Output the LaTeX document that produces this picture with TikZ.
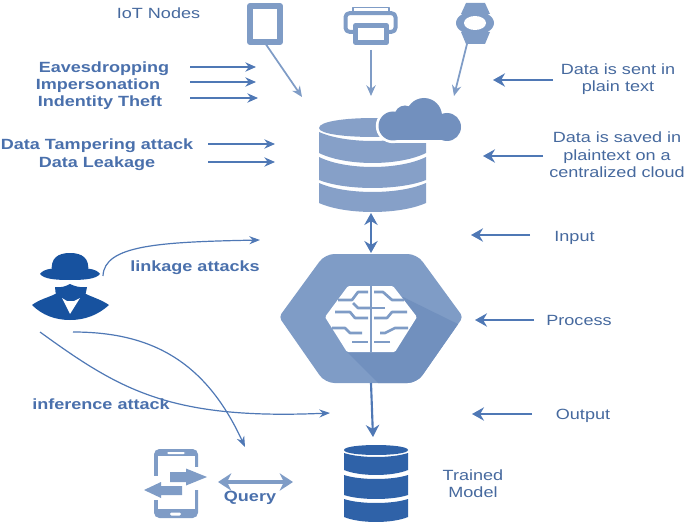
\documentclass[tikz,border=0pt]{standalone}
\usepackage{fontspec}
\usetikzlibrary{arrows.meta}
\newfontfamily\lblfont[FakeStretch=1.22]{Liberation Sans}
\definecolor{lblc}{HTML}{46699E}
\definecolor{boldc}{HTML}{4A70AC}
\definecolor{arrc}{HTML}{4F78B5}
\definecolor{lightarr}{HTML}{7F9CC6}
\definecolor{dbc}{HTML}{86A0C8}
\definecolor{cloudc}{HTML}{7290BE}
\definecolor{hexc}{HTML}{7F9CC6}
\definecolor{hexd}{HTML}{7190BE}
\definecolor{spyc}{HTML}{17529F}
\definecolor{tdbc}{HTML}{2F62A8}
\tikzset{
  lbl/.style={font=\lblfont\fontsize{11.1pt}{13pt}\selectfont,text=lblc,align=center,inner sep=0pt},
  blbl/.style={font=\lblfont\bfseries\fontsize{11.1pt}{13pt}\selectfont,text=boldc,align=center,inner sep=0pt},
  arr/.style={draw=arrc,line width=0.95pt,-{Stealth[length=8pt,width=7pt]}},
  rarr/.style={draw=arrc,line width=1.6pt,-{Stealth[length=9pt,width=10pt]}},
  garr/.style={draw=lightarr,line width=2.8pt,{Stealth[length=10pt,width=13pt]}-{Stealth[length=10pt,width=13pt]}},
  carr/.style={draw=arrc,line width=0.9pt,-{Stealth[length=8pt,width=6pt]}},
  icon/.style={draw=lightarr,line width=4.5pt,fill=white,inner sep=0pt},
}
% cx, half width, side-top y, centre-top y, side-bottom y, centre-bottom y, colour
\newcommand{\slab}[7]{%
  \fill[#7] ({#1-#2},#3) .. controls ({#1-#2*0.5},{#3+(#4-#3)*1.33}) and ({#1+#2*0.5},{#3+(#4-#3)*1.33}) .. ({#1+#2},#3)
   -- ({#1+#2},#5) .. controls ({#1+#2*0.5},{#5+(#6-#5)*1.33}) and ({#1-#2*0.5},{#5+(#6-#5)*1.33}) .. ({#1-#2},#5) -- cycle;}
\newcommand{\topell}[6]{%
  \fill[#6] ({#1-#2},#4) .. controls ({#1-#2},{#4-(#4-#3)*1.33}) and ({#1+#2},{#4-(#4-#3)*1.33}) .. ({#1+#2},#4)
   .. controls ({#1+#2},{#4+(#5-#4)*1.33}) and ({#1-#2},{#4+(#5-#4)*1.33}) .. ({#1-#2},#4) -- cycle;}
% one cloud, drawn lobe by lobe so that the overlaps stay filled
\newcommand{\cloudlobes}[1]{%
  \path[#1] (393,126) circle (14.5);
  \path[#1] (405,116) circle (10.5);
  \path[#1] (424,116) circle (18);
  \path[#1] (447,127) circle (14);
  \path[#1] (393,125) rectangle (447,140.5);
  \path[#1] (405,112) rectangle (440,130);}
\begin{document}
\begin{tikzpicture}[x=0.75pt,y=-0.75pt,line join=round]
\useasboundingbox (0,0) rectangle (685,524);

% ---- devices
\node[icon,minimum width=22.5pt,minimum height=27pt] (tablet) at (265,24) {};
\draw[lightarr,line width=1.1pt] (353,7.5) rectangle (389,13);
\node[icon,line width=3pt,minimum width=37.5pt,minimum height=14pt,rounded corners=3pt] (printer) at (370.5,22.5) {};
\fill[white] (357,29) rectangle (385,36);
\node[icon,line width=3.5pt,minimum width=23pt,minimum height=13pt] (paper) at (371,34) {};
\coordinate (pfoot) at (371,50);
% watch
\fill[lightarr] (466,3) -- (485,3) -- (490,14) -- (461,14) -- cycle;
\fill[lightarr] (461,32) -- (490,32) -- (485,44) -- (466,44) -- cycle;
\fill[lightarr] (475,23) ellipse [x radius=19,y radius=12];
\fill[white] (475,23) ellipse [x radius=11,y radius=7];
\coordinate (tabfoot) at (265,43);
\coordinate (watchfoot) at (467,44);

% ---- main data base
\topell{372.5}{53.5}{118}{128}{137}{dbc}
\slab{372.5}{53.5}{132}{141}{153}{163}{dbc}
\slab{372.5}{53.5}{157}{167}{180}{188}{dbc}
\slab{372.5}{53.5}{183}{192}{203}{212}{dbc}
\cloudlobes{fill=white,draw=white,line width=4pt}
\cloudlobes{fill=cloudc}
\coordinate (dbtop1) at (302,97);
\coordinate (dbtop2) at (371,96);
\coordinate (dbtop3) at (454,96);
\coordinate (dbbot) at (371,213);
\coordinate (hextop) at (371,253);
\coordinate (hexbot) at (371,383);
\coordinate (tdbtop) at (373,437);
\draw[arr,draw=lightarr,line width=1.3pt] (tabfoot) -- (dbtop1);
\draw[arr,draw=lightarr,line width=1.3pt] (pfoot) -- (dbtop2);
\draw[arr,draw=lightarr,line width=1.3pt] (watchfoot) -- (dbtop3);
\draw[draw=arrc,line width=2pt,{Stealth[length=9pt,width=10pt]}-{Stealth[length=9pt,width=10pt]}] (dbbot) -- (hextop);

% ---- hexagon
\begin{scope}
\clip[rounded corners=3pt] (279,317) [rounded corners=7pt] -- (325,254) -- (417,254) [rounded corners=3pt] -- (463,317) [rounded corners=7pt] -- (417,383) -- (325,383) [rounded corners=3pt] -- cycle;
\fill[hexc] (270,250) rectangle (470,390);
\fill[hexd] (347,352) -- (385,390) -- (470,390) -- (470,330) -- (403,297) -- cycle;
\end{scope}
% brain
\fill[white,rounded corners=1pt] (348,286) -- (393,286) -- (417,317) -- (395,352) -- (347,352) -- (325,317) -- cycle;
\begin{scope}[draw=hexc,line width=2pt]
\draw (371,284) -- (371,353);
\draw (338,300) -- (352,300) -- (358,292) -- (368,292);
\draw (371,308) -- (358,308) -- (353,303);
\draw (335,312) -- (350,312) -- (355,318) -- (368,318);
\draw (332,328) -- (345,328) -- (350,333) -- (362,333);
\draw (352,342) -- (368,342);
\draw (404,300) -- (392,300) -- (383,292) -- (374,292);
\draw (371,308) -- (385,308);
\draw (407,312) -- (392,312) -- (387,318) -- (374,318);
\draw (408,328) -- (395,328) -- (385,333) -- (380,333);
\draw (390,342) -- (374,342);
\end{scope}
\draw[rarr] (hexbot) -- (tdbtop);

% ---- trained model data base
\topell{376}{32}{445}{450}{455}{tdbc}
\slab{376}{32}{453}{457}{470}{475}{tdbc}
\slab{376}{32}{475}{479}{495}{499}{tdbc}
\slab{376}{32}{499}{503}{517}{522}{tdbc}

% ---- phone
\fill[lightarr,rounded corners=4pt] (154,449) rectangle (198,518);
\fill[white] (157.5,456) rectangle (194.5,509);
\fill[white,rounded corners=1pt] (167,452) rectangle (185,454);
\fill[white,rounded corners=1pt] (170,512.5) rectangle (181,515.5);
\fill[white] (190,467) rectangle (199,490);
\fill[white] (152,476) rectangle (162,500);
\fill[lightarr] (170,472) -- (186,472) -- (186,468.5) -- (207,477) -- (186,485.5) -- (186,482) -- (170,482) -- cycle;
\fill[lightarr] (182,486) -- (161,486) -- (161,482) -- (144,490) -- (161,498) -- (161,495) -- (182,495) -- cycle;
\coordinate (qa) at (218,482);
\coordinate (qb) at (293,482);
\draw[garr] (qa) -- (qb);

% ---- spy
\fill[spyc] (52,272) .. controls (50,258) and (58,253) .. (70,253) .. controls (82,253) and (90,258) .. (88,272) -- cycle;
\fill[spyc] (40,274) .. controls (44,268) and (55,268) .. (70,268) .. controls (85,268) and (96,268) .. (100,274) .. controls (96,279) and (85,280) .. (70,280) .. controls (55,280) and (44,279) .. (40,274) -- cycle;
\fill[spyc] (32,305) .. controls (40,299) and (50,297) .. (55,294) -- (86,294) .. controls (92,297) and (102,300) .. (109,305) .. controls (98,315) and (85,320) .. (70,320) .. controls (55,320) and (42,315) .. (32,305) -- cycle;
\fill[spyc] (55,287) .. controls (62,288) and (66,286) .. (70,284) .. controls (74,286) and (80,288) .. (87,287) -- (85,297) -- (56,297) -- cycle;
\fill[white] (62,298) -- (67,301) -- (74,301) -- (80,298) -- (70,314) -- cycle;
\coordinate (spya) at (103,276);
\coordinate (spyb) at (73,332);
\coordinate (spyc1) at (40,332);
\coordinate (linkend) at (260,240);
\coordinate (queryend) at (245,447);
\coordinate (infend) at (330,413);
\draw[carr] (spya) .. controls (104,245) and (160,242) .. (linkend);
\draw[carr] (spyb) .. controls (150,332) and (205,360) .. (queryend);
\draw[carr] (spyc1) .. controls (120,390) and (170,420) .. (infend);

% ---- text
\node[lbl] (iot) at (158.5,13) {IoT Nodes};
\node[blbl] (eav) at (104,69) {Eavesdropping};
\node[blbl] (imp) at (98,86) {Impersonation};
\node[blbl] (ind) at (100,103) {Indentity Theft};
\node[blbl] (tam) at (97,146) {Data Tampering attack};
\node[blbl] (lea) at (97,164) {Data Leakage};
\node[lbl] (sent) at (618,79.5) {Data is sent in\\plain text};
\node[lbl] (saved) at (617,155) {Data is saved in\\plaintext on a\\centralized cloud};
\node[lbl] (input) at (574.5,237.5) {Input};
\node[lbl] (process) at (579,320.5) {Process};
\node[lbl] (output) at (583,416) {Output};
\node[lbl] (model) at (473,483.5) {Trained\\Model};
\node[blbl] (query) at (250,498) {Query};
\node[blbl] (link) at (195,268) {linkage attacks};
\node[blbl] (inf) at (101,404.5) {inference attack};

% ---- pointer arrows
\coordinate (a1) at (190,67); \coordinate (a1e) at (256,67);
\coordinate (a2) at (190,82); \coordinate (a2e) at (256,82);
\coordinate (a3) at (190,98); \coordinate (a3e) at (258,98);
\coordinate (a4) at (208,144); \coordinate (a4e) at (275,144);
\coordinate (a5) at (208,162); \coordinate (a5e) at (275,162);
\coordinate (b1) at (553,80); \coordinate (b1e) at (493,80);
\coordinate (b2) at (543,156); \coordinate (b2e) at (483,156);
\coordinate (b3) at (530,235); \coordinate (b3e) at (471,235);
\coordinate (b4) at (534,320); \coordinate (b4e) at (475,320);
\coordinate (b5) at (532,414); \coordinate (b5e) at (472,414);
\draw[arr] (a1) -- (a1e);
\draw[arr] (a2) -- (a2e);
\draw[arr] (a3) -- (a3e);
\draw[arr] (a4) -- (a4e);
\draw[arr] (a5) -- (a5e);
\draw[rarr] (b1) -- (b1e);
\draw[rarr] (b2) -- (b2e);
\draw[rarr] (b3) -- (b3e);
\draw[rarr] (b4) -- (b4e);
\draw[rarr] (b5) -- (b5e);
\end{tikzpicture}
\end{document}
